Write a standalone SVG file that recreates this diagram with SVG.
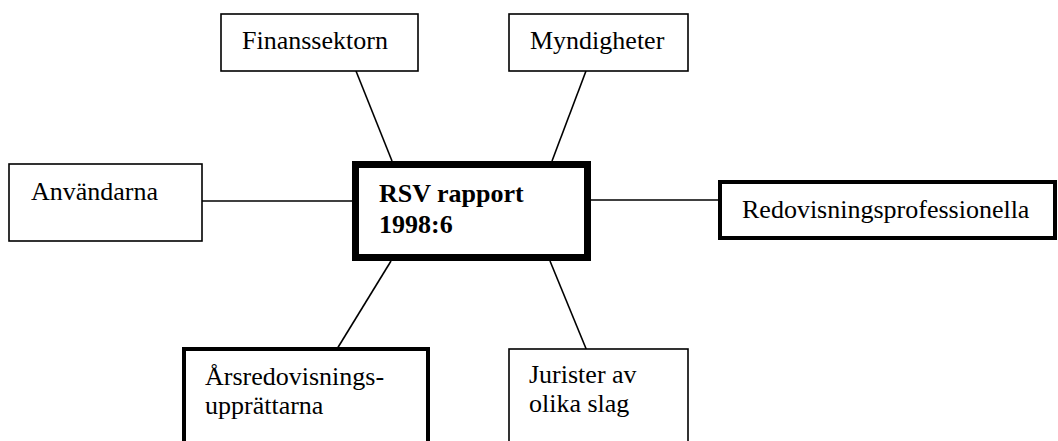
<svg xmlns="http://www.w3.org/2000/svg" width="1058" height="441" viewBox="0 0 1058 441">
<style>
.box{fill:#fff;stroke:#000;stroke-width:1.6}
.thick{stroke-width:4}
.center{fill:#fff;stroke:#000;stroke-width:7}
.t{font-family:"Liberation Serif","Times New Roman",serif;font-size:26px;fill:#000}
.b{font-weight:bold}
.c{stroke:#000;stroke-width:1.6;fill:none}
</style>
<rect width="1058" height="441" fill="#fff"/>
<g id="connectors">
<line class="c" x1="356" y1="71" x2="392" y2="161"/>
<line class="c" x1="586" y1="71" x2="552" y2="161"/>
<line class="c" x1="202" y1="201" x2="352" y2="201"/>
<line class="c" x1="591" y1="200" x2="718" y2="200"/>
<line class="c" x1="391" y1="261" x2="337" y2="349"/>
<line class="c" x1="550" y1="261" x2="587" y2="351"/>
</g>
<g id="finanssektorn">
<rect class="box" x="221" y="14" width="197" height="57"/>
<text class="t" x="242" y="49">Finanssektorn</text>
</g>
<g id="myndigheter">
<rect class="box" x="509" y="14" width="179" height="57"/>
<text class="t" x="530" y="49">Myndigheter</text>
</g>
<g id="anvandarna">
<rect class="box" x="9" y="164" width="193" height="77"/>
<text class="t" x="31" y="200">Användarna</text>
</g>
<g id="rsv">
<rect class="center" x="355.5" y="164.5" width="232" height="93"/>
<text class="t b" x="379" y="202">RSV rapport</text>
<text class="t b" x="379" y="233">1998:6</text>
</g>
<g id="redovisningsprofessionella">
<rect class="box thick" x="720" y="182" width="335" height="56"/>
<text class="t" x="742" y="218">Redovisningsprofessionella</text>
</g>
<g id="arsredovisningsupprattarna">
<rect class="box thick" x="184" y="349" width="244" height="120"/>
<text class="t" x="205" y="385">Årsredovisnings-</text>
<text class="t" x="205" y="414">upprättarna</text>
</g>
<g id="jurister">
<rect class="box" x="509" y="349" width="179" height="120"/>
<text class="t" x="529" y="383">Jurister av</text>
<text class="t" x="529" y="412">olika slag</text>
</g>
</svg>
